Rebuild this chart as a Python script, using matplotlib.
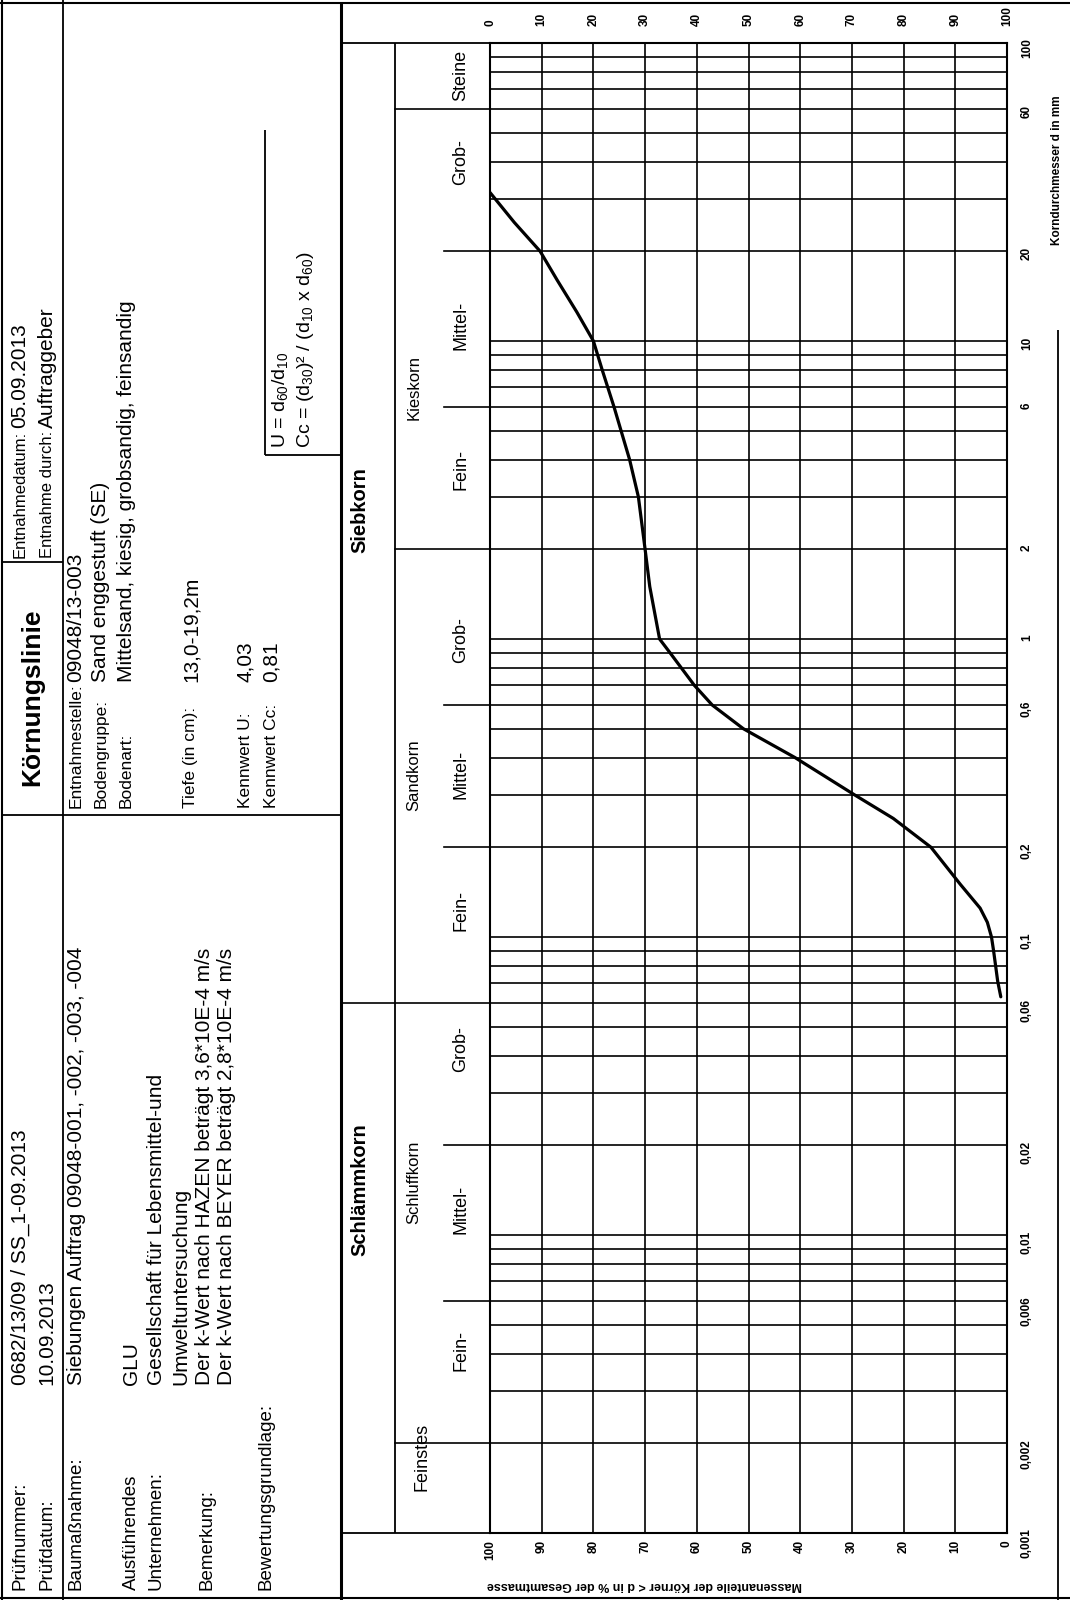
import matplotlib.pyplot as plt
import numpy as np
from matplotlib.ticker import LogLocator, NullFormatter
from matplotlib.transforms import blended_transform_factory

plt.rcParams['font.family'] = ['Liberation Sans', 'DejaVu Sans']
plt.rcParams['mathtext.fontset'] = 'custom'
plt.rcParams['mathtext.rm'] = 'Liberation Sans'

# Körnungslinie: Korndurchmesser (mm) und Siebdurchgang (%)
korn_d = [0.063, 0.071, 0.08, 0.09, 0.1, 0.112, 0.125, 0.15, 0.2, 0.25, 0.3,
          0.4, 0.5, 0.6, 0.7, 0.8, 0.9, 1.0, 1.5, 2.0, 3.0, 4.0, 6.0, 8.0,
          10.0, 12.5, 16.0, 20.0, 25.0, 31.5]
durchgang = [1.2, 1.8, 2.2, 2.6, 3.0, 3.8, 5.2, 9.0, 14.7, 22.0, 29.5,
             41.0, 51.0, 57.0, 60.5, 63.0, 65.2, 67.2, 69.1, 70.0, 71.3, 73.0,
             76.0, 78.3, 80.0, 83.2, 87.0, 90.3, 95.3, 100.0]

# Achsbeschriftung
d_ticks = [0.001, 0.002, 0.006, 0.01, 0.02, 0.06, 0.1, 0.2, 0.6, 1, 2, 6, 10, 20, 60, 100]
d_labels = ["0,001", "0,002", "0,006", "0,01", "0,02", "0,06", "0,1", "0,2", "0,6",
            "1", "2", "6", "10", "20", "60", "100"]
pct_ticks = [0, 10, 20, 30, 40, 50, 60, 70, 80, 90, 100]

# Bereichsgrenzen
grenzen_haupt = [0.002, 2, 60]
grenzen_unter = [0.006, 0.02, 0.2, 0.6, 6, 20]
grenze_sieb = 0.06

# Bereichsnamen (Name, Durchmesser der Beschriftung)
unter_namen = [("Steine", 78), ("Grob-", 40), ("Mittel-", 11.3), ("Fein-", 3.7),
               ("Grob-", 0.99), ("Mittel-", 0.35), ("Fein-", 0.123),
               ("Grob-", 0.042), ("Mittel-", 0.0122), ("Fein-", 0.0041)]
gruppen_namen = [("Kieskorn", 7.0), ("Sandkorn", 0.35), ("Schluffkorn", 0.015)]
feinstes = ("Feinstes", 0.0018)
haupt_namen = [("Siebkorn", 2.7), ("Schlämmkorn", 0.0142)]

fig = plt.figure(figsize=(10.7, 16), dpi=100)
bg = fig.add_axes([0, 0, 1, 1])
bg.set_xlim(0, 1070)
bg.set_ylim(1600, 0)
bg.axis('off')

W, H = 1070, 1600
gx0, gx1, gy0, gy1 = 490, 1007, 43, 1533
ax = fig.add_axes([gx0 / W, 1 - gy1 / H, (gx1 - gx0) / W, (gy1 - gy0) / H])
ax.set_yscale('log')
ax.set_ylim(0.001, 100)
ax.set_xlim(100, 0)

ax.set_yticks(d_ticks)
ax.set_yticklabels(d_labels)
ax.yaxis.set_minor_locator(LogLocator(base=10, subs=range(1, 10)))
ax.yaxis.set_minor_formatter(NullFormatter())
ax.yaxis.tick_right()
ax.set_xticks(pct_ticks)
ax.grid(True, which='both', color='black', lw=1.2)
ax.tick_params(which='both', length=0)
ax.tick_params(axis='y', pad=10, labelsize=8.5)
ax.tick_params(axis='x', pad=5, labelsize=8.5)
for lab in ax.get_yticklabels() + ax.get_xticklabels():
    lab.set_rotation(90)
    lab.set_fontweight('bold')
for sp in ax.spines.values():
    sp.set_linewidth(1.5)

ax2 = ax.twiny()
ax2.set_xlim(0, 100)
ax2.set_xticks(pct_ticks)
ax2.tick_params(length=0, pad=12, labelsize=8.5)
for lab in ax2.get_xticklabels():
    lab.set_rotation(90)
    lab.set_fontweight('bold')
for sp in ax2.spines.values():
    sp.set_visible(False)

ax.plot(durchgang, korn_d, color='black', lw=2.3, solid_capstyle='round')

# Linien und Texte links vom Raster (x in Pixel, y im Korndurchmesser)
tr = blended_transform_factory(bg.transData, ax.transData)
for d in grenzen_haupt:
    bg.plot([395, gx0], [d, d], color='black', lw=1.2, transform=tr)
for d in grenzen_unter:
    bg.plot([444, gx0], [d, d], color='black', lw=1.2, transform=tr)
bg.plot([341, gx0], [grenze_sieb, grenze_sieb], color='black', lw=1.2, transform=tr)

for name, d in unter_namen:
    bg.text(461, d, name, rotation=90, ha='center', va='center', fontsize=13, transform=tr)
for name, d in gruppen_namen:
    bg.text(414, d, name, rotation=90, ha='center', va='center', fontsize=12, transform=tr)
bg.text(422, feinstes[1], feinstes[0], rotation=90, ha='center', va='center',
        fontsize=13, transform=tr)
for name, d in haupt_namen:
    bg.text(360, d, name, rotation=90, ha='center', va='center', fontsize=14.5,
            fontweight='bold', transform=tr)

# Rahmen
def line(xs, ys, lw=1.3):
    bg.plot(xs, ys, color='black', lw=lw, solid_capstyle='butt')

line([2, 2], [0, 1600], 1.5)
line([0, 1070], [3, 3], 1.5)
line([0, 1070], [1598, 1598], 1.5)
line([63, 63], [0, 1600])
line([341, 341], [3, 1600], 2.2)
line([341, gx1], [gy0, gy0])
line([341, gx0], [gy1, gy1])
line([395, 395], [gy0, gy1])
line([1058, 1058], [330, 1600])
line([2, 63], [562, 562])
line([2, 63], [815, 815])
line([63, 341], [815, 815])
line([265, 265], [130, 455])
line([265, 341], [455, 455])

bg.text(645, 1585, "Massenanteile der Körner < d in % der Gesamtmasse", rotation=180,
        ha='center', va='center', fontsize=9, fontweight='bold')
bg.text(1057, 170, "Korndurchmesser d in mm", rotation=90,
        ha='center', va='center', fontsize=8.5, fontweight='bold')

# Kopf
def label(x, y, s, fs=12.5):
    bg.text(x, y, s, rotation=90, rotation_mode='anchor', ha='left', va='center',
            fontsize=fs)

def wert(x, y, s, fs=15):
    bg.text(x, y, s, rotation=90, rotation_mode='anchor', ha='left', va='center',
            fontsize=fs)

label(20, 1590, "Prüfnummer:", 13.5)
wert(20, 1385, "0682/13/09 / SS_1-09.2013")
label(47, 1590, "Prüfdatum:", 13.5)
wert(47, 1385, "10.09.2013")
bg.text(32, 697, "Körnungslinie", rotation=90, ha='center', va='center',
        fontsize=19, fontweight='bold')
label(20, 558, "Entnahmedatum:", 12)
wert(20, 428, "05.09.2013")
label(47, 558, "Entnahme durch:", 12)
wert(47, 428, "Auftraggeber")

label(76, 1590, "Baumaßnahme:", 13.5)
wert(76, 1385, "Siebungen Auftrag 09048-001, -002, -003, -004")
label(131, 1590, "Ausführendes", 13.5)
label(156, 1590, "Unternehmen:", 13.5)
wert(131, 1385, "GLU")
wert(156, 1385, "Gesellschaft für Lebensmittel-und")
wert(181, 1385, "Umweltuntersuchung")
label(207, 1590, "Bemerkung:", 13.5)
wert(205, 1385, "Der k-Wert nach HAZEN beträgt 3,6*10E-4 m/s")
wert(226, 1385, "Der k-Wert nach BEYER beträgt 2,8*10E-4 m/s")
label(266, 1590, "Bewertungsgrundlage:", 13.5)

label(76, 808, "Entnahmestelle:")
wert(76, 682, "09048/13-003")
label(101, 808, "Bodengruppe:")
wert(101, 682, "Sand enggestuft (SE)")
label(126, 808, "Bodenart:")
wert(126, 682, "Mittelsand, kiesig, grobsandig, feinsandig")
label(191, 808, "Tiefe (in cm):")
wert(191, 682, "13,0-19,2m")
label(246, 808, "Kennwert U:")
wert(246, 682, "4,03")
label(271, 808, "Kennwert Cc:")
wert(271, 682, "0,81")
wert(281, 448, r"U = d$_{60}$/d$_{10}$", fs=14)
wert(306, 448, r"Cc = (d$_{30}$)² / (d$_{10}$ x d$_{60}$)", fs=14)

fig.savefig("out.png", dpi=100)
